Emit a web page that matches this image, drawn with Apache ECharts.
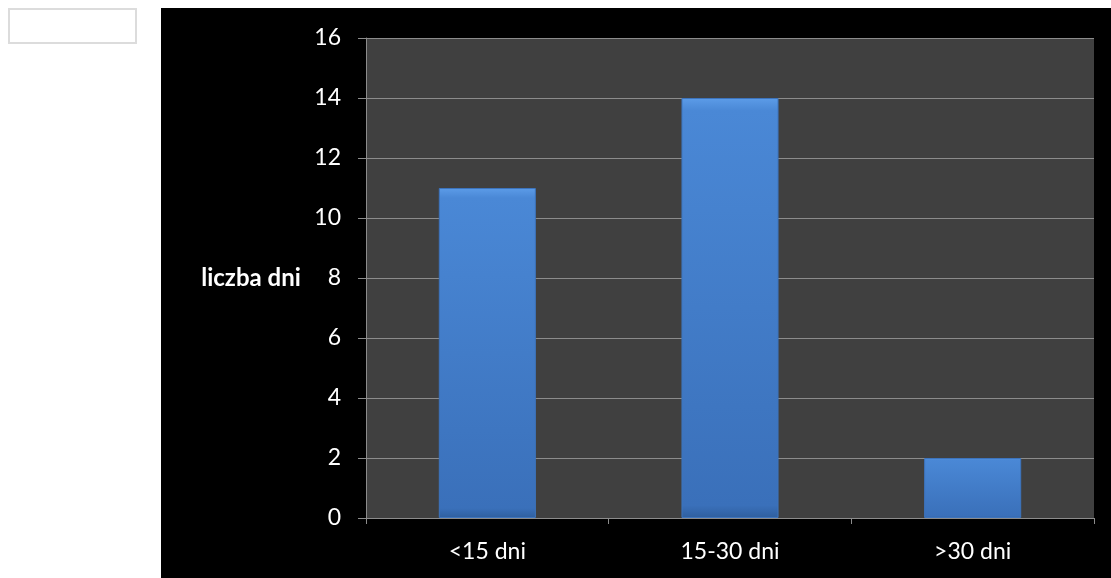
<!DOCTYPE html>
<html><head><meta charset="utf-8">
<script src="https://cdn.jsdelivr.net/npm/echarts@6/dist/echarts.min.js"></script>
<style>html,body{margin:0;padding:0;background:#fff}#c{width:1111px;height:578px}</style>
</head><body><div id="c"></div>
<script>
const categories = ['<15 dni', '15-30 dni', '>30 dni'];
const values = [11, 14, 2];
const yTicks = [0, 2, 4, 6, 8, 10, 12, 14, 16];
const yName = 'liczba dni';

const chart = echarts.init(document.getElementById('c'), null, {renderer: 'canvas'});
const font = 'Lato, "Open Sans", sans-serif';
chart.setOption({
  backgroundColor: '#ffffff',
  animation: false,
  graphic: [
    {type: 'rect', z: -10, shape: {x: 161, y: 8, width: 950, height: 570}, style: {fill: '#000'}},
    {type: 'rect', shape: {x: 9, y: 9, width: 127, height: 34}, style: {fill: '#fff', stroke: '#dcdcdc', lineWidth: 2}},
    {type: 'text', x: 251, y: 278, style: {text: yName, fill: '#fff', font: 'bold 24px ' + font, textAlign: 'center', textVerticalAlign: 'middle'}}
  ],
  grid: {left: 366, top: 38, right: 17, bottom: 60, show: true, backgroundColor: '#404040', borderWidth: 0},
  xAxis: {
    type: 'category', data: categories,
    axisLine: {lineStyle: {color: '#8c8c8c', width: 1}},
    axisTick: {show: true, length: 6, lineStyle: {color: '#8c8c8c'}},
    axisLabel: {color: '#fff', fontSize: 23, fontFamily: font, margin: 22}
  },
  yAxis: {
    type: 'value', min: yTicks[0], max: yTicks[yTicks.length - 1], interval: yTicks[1] - yTicks[0],
    axisLine: {show: true, lineStyle: {color: '#8c8c8c', width: 1}},
    axisTick: {show: true, length: 8, lineStyle: {color: '#8c8c8c'}},
    splitLine: {show: true, lineStyle: {color: '#8c8c8c', width: 1}},
    axisLabel: {color: '#fff', fontSize: 23, fontFamily: font, margin: 25}
  },
  series: [{
    type: 'bar', data: values, barWidth: '40%',
    itemStyle: {
      color: new echarts.graphic.LinearGradient(0, 0, 0, 1, [
        {offset: 0, color: '#5c9ce8'},
        {offset: 0.03, color: '#4a88d6'},
        {offset: 0.97, color: '#3a70ba'},
        {offset: 1, color: '#2f5f9e'}
      ]),
      borderColor: '#3d74bd', borderWidth: 1
    }
  }]
});
</script></body></html>
